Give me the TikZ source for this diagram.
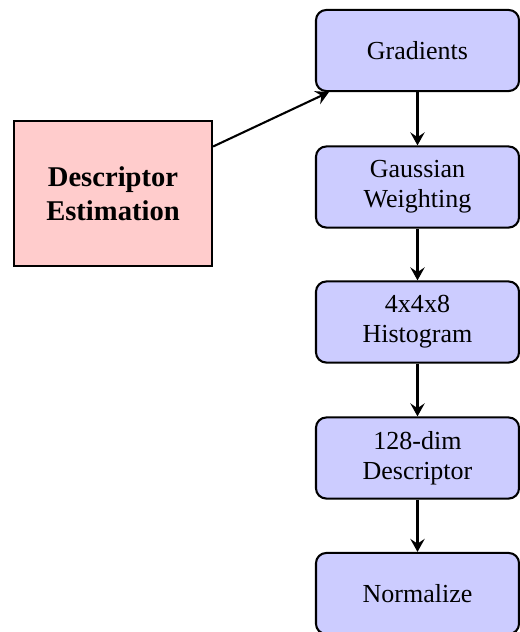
\documentclass[tikz,border=0pt]{standalone}
\usepackage{fontspec}
\setmainfont{Liberation Serif}
\usetikzlibrary{arrows.meta}
\begin{document}
\begin{tikzpicture}[x=0.3846pt,y=-0.3846pt,
  stagebox/.style={draw,thick,rounded corners=4pt,fill=blue!20,minimum width=78.1pt,minimum height=31.2pt,align=center,inner sep=1pt,font=\fontsize{10}{11.5}\selectfont},
  mainbox/.style={draw,thick,fill=red!20,minimum width=76.2pt,minimum height=55.8pt,align=center,font=\fontsize{11}{13}\selectfont\bfseries},
  conn/.style={-{Stealth[length=5pt,width=5.5pt,inset=1.8pt]},thick}]
\useasboundingbox (0,0) rectangle (520,632);
\node[mainbox] (est) at (113,193.5) {Descriptor\\Estimation};
\node[stagebox] (grad) at (417.5,50.5) {Gradients};
\node[stagebox] (gauss) at (417.5,187) {Gaussian\\Weighting};
\node[stagebox] (hist) at (417.5,322) {4x4x8\\Histogram};
\node[stagebox] (desc) at (417.5,458) {128-dim\\Descriptor};
\node[stagebox] (norm) at (417.5,593.5) {Normalize};
\draw[conn] (est) -- (grad);
\draw[conn] (grad) -- (gauss);
\draw[conn] (gauss) -- (hist);
\draw[conn] (hist) -- (desc);
\draw[conn] (desc) -- (norm);
\end{tikzpicture}
\end{document}
